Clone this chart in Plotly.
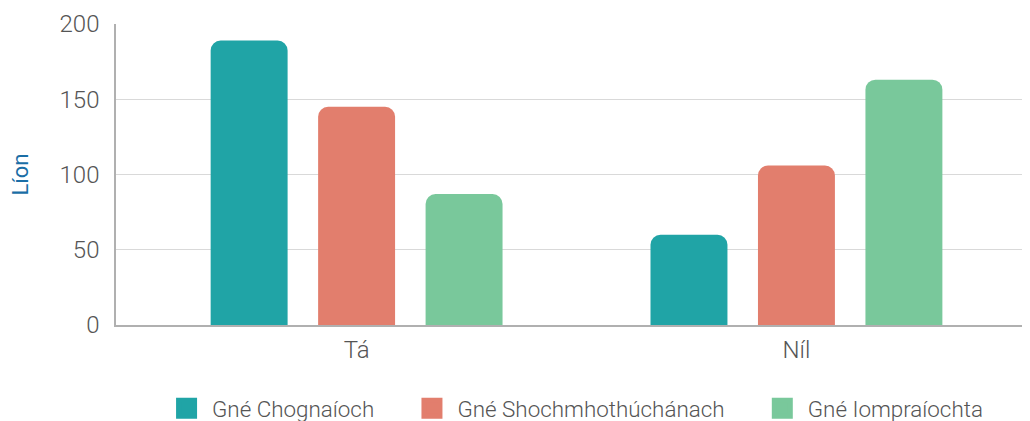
import plotly.graph_objects as go

categories = ["Tá", "Níl"]
series_names = ["Gné Chognaíoch", "Gné Shochmhothúchánach", "Gné Iompraíochta"]
values_chognaioch = [189, 60]
values_shochmhothuchanach = [145, 106]
values_iompraiochta = [87, 163]
colors = ["#20A4A6", "#E27E6D", "#79C89B"]
y_ticks = [0, 50, 100, 150, 200]

series_values = [values_chognaioch, values_shochmhothuchanach, values_iompraiochta]

# page body has an 8px default margin; compensate so the plot lands where the reference has it
OFF = 8

fig = go.Figure()
for name, vals, col in zip(series_names, series_values, colors):
    fig.add_trace(go.Bar(
        x=categories, y=vals, name=name, showlegend=False,
        marker=dict(color=col, cornerradius=10, line=dict(width=0)),
    ))
NB = "\u00a0"
for i, (name, col) in enumerate(zip(series_names, colors)):
    trail = NB * 6 if i < len(series_names) - 1 else ""
    fig.add_trace(go.Scatter(
        x=[None], y=[None], mode="markers", name=NB + name + trail,
        marker=dict(symbol="square", size=16, color=col, line=dict(width=6, color=col)),
    ))

fig.update_layout(
    width=1030 - OFF, height=421 - OFF,
    margin=dict(l=116 - OFF, r=0, t=23.5 - OFF, b=95.5, autoexpand=False),
    paper_bgcolor="white", plot_bgcolor="white",
    font=dict(family="Roboto", size=24, color="#555555", weight=300),
    barmode="group", bargap=0.267, bargroupgap=0.284,
    legend=dict(orientation="h", x=0.505, xanchor="center", y=-0.207, yanchor="top",
                font=dict(size=22.4, color="#555555"), itemwidth=30),
    xaxis=dict(range=[-0.547, 1.531], showgrid=False, showline=True,
               linecolor="#b0b0b0", linewidth=1.5, ticks="", ticklabelstandoff=2,
               automargin=False),
    yaxis=dict(range=[0, 200], tickvals=y_ticks, showgrid=True, gridcolor="#d9d9d9",
               gridwidth=1, showline=True, linecolor="#b0b0b0", linewidth=1.5,
               zeroline=False, ticks="", ticklabelstandoff=10, automargin=False,
               title=dict(text="Líon", font=dict(size=22, color="#1A6EA6", weight=400),
                          standoff=35)),
)

fig.write_html("out.html")
